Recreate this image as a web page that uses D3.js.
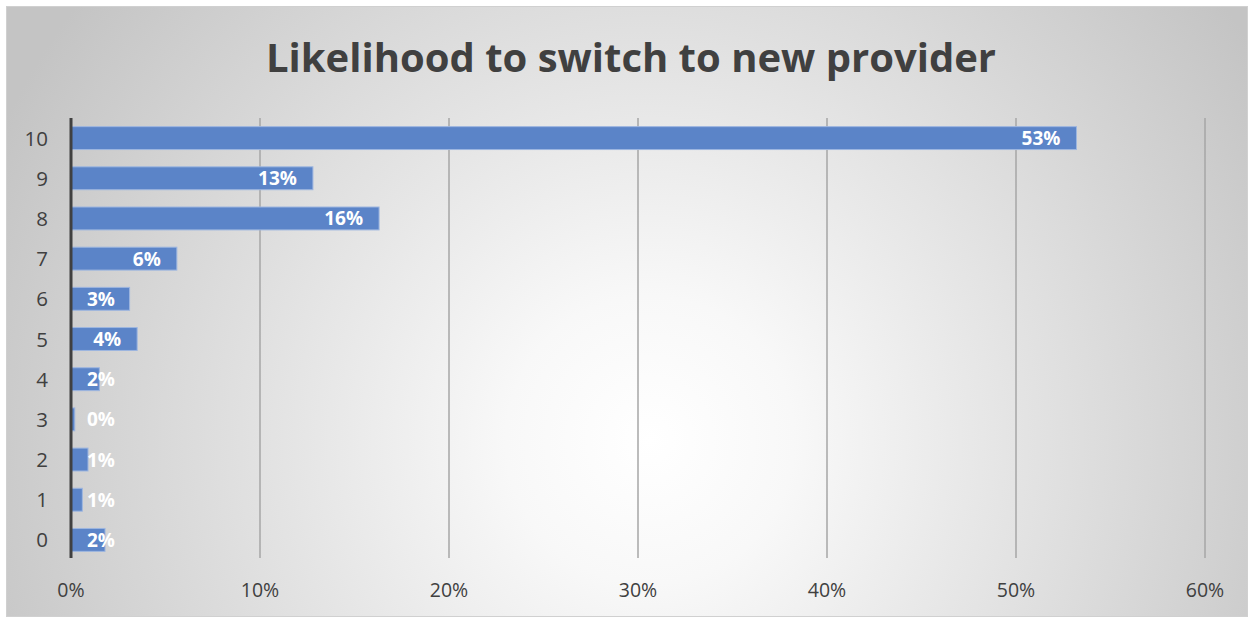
<!DOCTYPE html>
<html><head><meta charset="utf-8">
<script src="https://cdn.jsdelivr.net/npm/d3@7"></script>
<style>html,body{margin:0;padding:0;background:#fff;}svg{display:block;}</style>
</head><body>
<svg id="chart" width="1253" height="617"></svg>
<script>
const categories = ["10","9","8","7","6","5","4","3","2","1","0"];
const values = [0.532, 0.128, 0.163, 0.056, 0.031, 0.035, 0.015, 0.002, 0.009, 0.006, 0.018];
const labels = ["53%","13%","16%","6%","3%","4%","2%","0%","1%","1%","2%"];
const xTicks = [0, 0.1, 0.2, 0.3, 0.4, 0.5, 0.6];
const title = "Likelihood to switch to new provider";

const svg = d3.select("#chart");
const defs = svg.append("defs");
const rg = defs.append("radialGradient").attr("id","bg")
  .attr("gradientUnits","userSpaceOnUse").attr("cx",650).attr("cy",440).attr("r",720);
rg.append("stop").attr("offset","0%").attr("stop-color","#ffffff");
rg.append("stop").attr("offset","20%").attr("stop-color","#f8f8f8");
rg.append("stop").attr("offset","100%").attr("stop-color","#c4c4c4");

svg.append("rect").attr("x",6.5).attr("y",6.5).attr("width",1241).attr("height",610)
  .attr("fill","url(#bg)").attr("stroke","#d0d0d0").attr("stroke-width",1);

svg.append("text").attr("x",631).attr("y",72).attr("text-anchor","middle")
  .attr("font-family","'Open Sans', sans-serif").attr("font-weight","bold")
  .attr("font-size",40).attr("fill","#404040").text(title);

const x = d3.scaleLinear().domain([0,0.6]).range([71,1205]);
const y = d3.scaleBand().domain(categories).range([118,560]).paddingInner(0.43).paddingOuter(0.215);

// gridlines
svg.append("g").selectAll("line").data(xTicks.slice(1)).join("line")
  .attr("x1",d=>x(d)).attr("x2",d=>x(d)).attr("y1",118).attr("y2",558)
  .attr("stroke","#a6a6a6").attr("stroke-width",1.5);

// x tick labels
svg.append("g").selectAll("text").data(xTicks).join("text")
  .attr("x",d=>x(d)).attr("y",597).attr("text-anchor","middle")
  .attr("font-family","'Open Sans', sans-serif").attr("font-size",19.5).attr("fill","#404040")
  .text(d3.format(".0%"));

// y tick labels
svg.append("g").selectAll("text").data(categories).join("text")
  .attr("x",48).attr("y",d=>y(d)+y.bandwidth()/2+7.5).attr("text-anchor","end")
  .attr("font-family","'Open Sans', sans-serif").attr("font-size",20.5).attr("fill","#404040")
  .text(d=>d);

// bars
svg.append("g").selectAll("rect").data(categories).join("rect")
  .attr("x",x(0)).attr("y",d=>y(d)).attr("width",(d,i)=>x(values[i])-x(0)).attr("height",y.bandwidth())
  .attr("fill","#5b84c8").attr("stroke","#9db6e0").attr("stroke-width",1);

// labels
const lab = svg.append("g").selectAll("text").data(categories).join("text")
  .attr("y",d=>y(d)+y.bandwidth()/2+7).attr("text-anchor","end")
  .attr("font-family","'Open Sans', sans-serif").attr("font-weight","bold").attr("font-size",19).attr("fill","#ffffff")
  .text((d,i)=>labels[i]);
lab.each(function(d,i){
  const w = this.getComputedTextLength();
  const xe = Math.max(x(values[i]) - 16, x(0) + 16 + w);
  d3.select(this).attr("x", xe);
});

// axis line
svg.append("line").attr("x1",71).attr("x2",71).attr("y1",118).attr("y2",558)
  .attr("stroke","#404040").attr("stroke-width",3);
</script>
</body></html>
